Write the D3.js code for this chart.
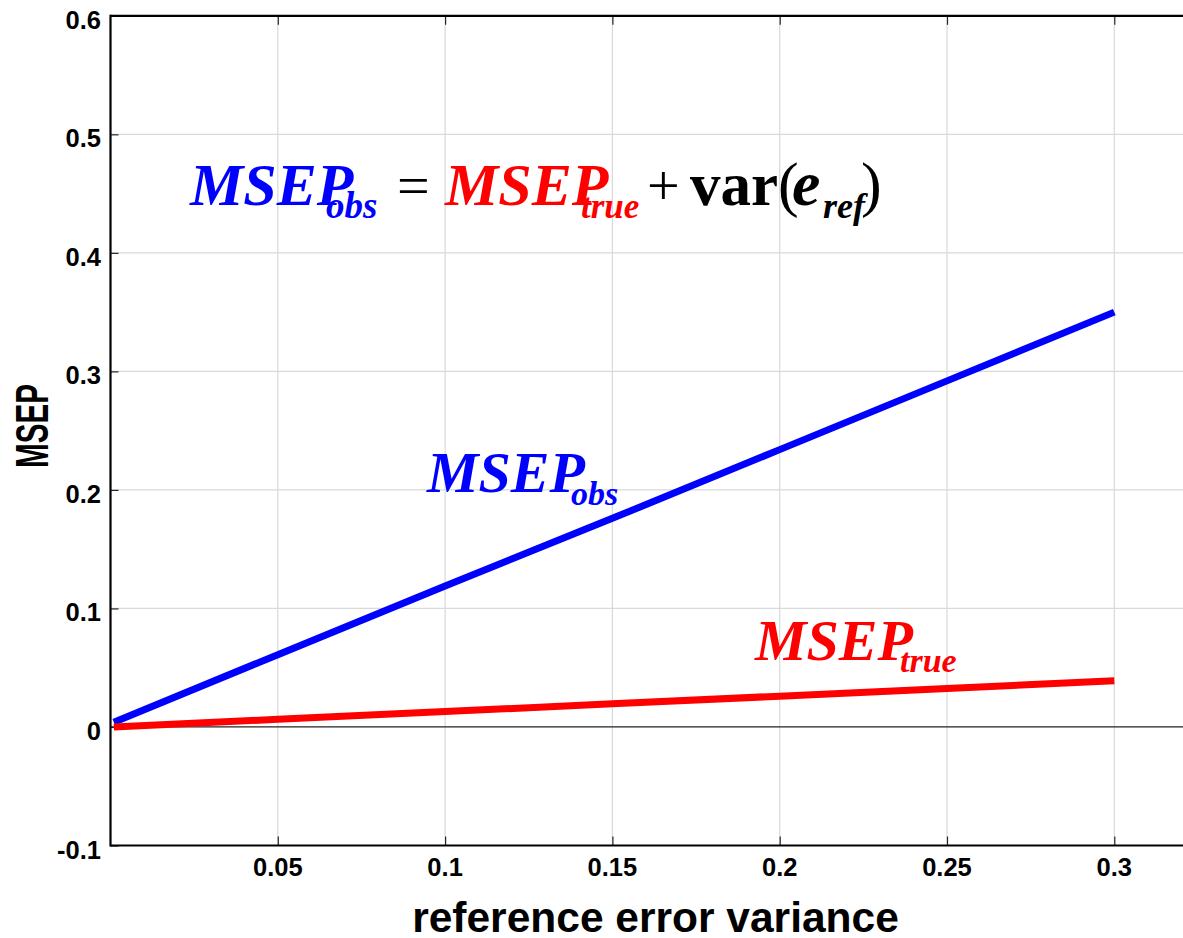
<!DOCTYPE html>
<html><head><meta charset="utf-8">
<script src="https://cdn.jsdelivr.net/npm/d3@7"></script>
<style>body{margin:0;background:#fff}svg{display:block}</style>
</head><body>
<svg id="c" width="1183" height="938"></svg>
<script>
// ---- data ----
const xValues  = [0.001, 0.05, 0.1, 0.15, 0.2, 0.25, 0.3];
const msepObs  = [0.004, 0.061, 0.119, 0.176, 0.234, 0.292, 0.350];
const msepTrue = [0.000, 0.0065, 0.013, 0.0195, 0.026, 0.0325, 0.039];
const xTicks = [0.05, 0.1, 0.15, 0.2, 0.25, 0.3];
const xTickLabels = ["0.05", "0.1", "0.15", "0.2", "0.25", "0.3"];
const yTicks = [-0.1, 0, 0.1, 0.2, 0.3, 0.4, 0.5, 0.6];
const yTickLabels = ["-0.1", "0", "0.1", "0.2", "0.3", "0.4", "0.5", "0.6"];
const xDomain = [0, 0.3];
const xMax = 0.325;
const yDomain = [-0.1, 0.6];

(function () {
// ---- layout ----
const svg = d3.select("#c");
const x = d3.scaleLinear().domain(xDomain).range([110.5, 1114.3]);
const y = d3.scaleLinear().domain(yDomain).range([845.5, 15.8]);
const pL = x(0), pR = x(xMax), pT = y(0.6), pB = y(-0.1);
const sans = "'Liberation Sans', Arial, sans-serif";
const serif = "'Liberation Serif', 'Times New Roman', serif";

svg.append("rect").attr("width", 1183).attr("height", 938).attr("fill", "#fff");

// grid
const grid = svg.append("g").attr("stroke", "#d9d9d9").attr("stroke-width", 1.2);
grid.selectAll("line.v").data(xTicks).join("line").attr("class", "v")
  .attr("x1", d => x(d)).attr("x2", d => x(d)).attr("y1", pT).attr("y2", pB);
grid.selectAll("line.h").data(yTicks.filter(d => d > -0.1 && d < 0.6 && d !== 0)).join("line").attr("class", "h")
  .attr("x1", pL).attr("x2", pR).attr("y1", d => y(d)).attr("y2", d => y(d));

// zero line
svg.append("line").attr("x1", pL).attr("x2", pR).attr("y1", y(0)).attr("y2", y(0))
  .attr("stroke", "#222").attr("stroke-width", 1.2);

// axes with inward ticks
const xAxisB = d3.axisBottom(x).tickValues(xTicks).tickSize(-9).tickFormat("");
const xAxisT = d3.axisTop(x).tickValues(xTicks).tickSize(-9).tickFormat("");
const yAxisL = d3.axisLeft(y).tickValues(yTicks).tickSize(-8).tickFormat("");
[[xAxisB, `translate(0,${pB})`], [xAxisT, `translate(0,${pT})`], [yAxisL, `translate(${pL},0)`]]
  .forEach(([ax, tr]) => {
    const g = svg.append("g").attr("transform", tr).call(ax);
    g.select(".domain").remove();
    g.selectAll(".tick line").attr("stroke", "#262626").attr("stroke-width", 1.2);
  });

// frame lines
svg.append("line").attr("x1", pL).attr("x2", 1190).attr("y1", pT).attr("y2", pT).attr("stroke", "#000").attr("stroke-width", 2.2);
svg.append("line").attr("x1", pL).attr("x2", 1190).attr("y1", pB).attr("y2", pB).attr("stroke", "#000").attr("stroke-width", 2.2);
svg.append("line").attr("x1", pL).attr("x2", pL).attr("y1", pT - 1.1).attr("y2", pB + 1.1).attr("stroke", "#000").attr("stroke-width", 2.2);

// tick labels
svg.append("g").selectAll("text").data(xTicks).join("text")
  .attr("x", d => x(d)).attr("y", 876).attr("text-anchor", "middle")
  .attr("font-family", sans).attr("font-weight", "bold").attr("font-size", 25.5)
  .text((d, i) => xTickLabels[i]);
svg.append("g").selectAll("text").data(yTicks).join("text")
  .attr("x", 101).attr("y", d => y(d) + 13).attr("text-anchor", "end")
  .attr("font-family", sans).attr("font-weight", "bold").attr("font-size", 25.5)
  .text((d, i) => yTickLabels[i]);

// axis titles
svg.append("text").attr("x", 655.5).attr("y", 932).attr("text-anchor", "middle")
  .attr("font-family", sans).attr("font-weight", "bold").attr("font-size", 42.5)
  .text("reference error variance");
svg.append("text").attr("transform", "translate(48,426) rotate(-90)").attr("text-anchor", "middle")
  .attr("font-family", sans).attr("font-weight", "bold").attr("font-size", 46)
  .attr("textLength", 84).attr("lengthAdjust", "spacingAndGlyphs")
  .text("MSEP");

// lines
const line = d3.line().x((d, i) => x(xValues[i])).y(d => y(d));
svg.append("path").datum(msepObs).attr("d", line).attr("fill", "none")
  .attr("stroke", "#0000ff").attr("stroke-width", 7);
svg.append("path").datum(msepTrue).attr("d", line).attr("fill", "none")
  .attr("stroke", "#ff0000").attr("stroke-width", 7);

// annotations
function t(xp, yp, str, size, color, style, weight) {
  svg.append("text").attr("x", xp).attr("y", yp).text(str)
    .attr("font-family", serif).attr("font-size", size).attr("fill", color)
    .attr("font-style", style).attr("font-weight", weight);
}
// equation
const eb = 205, es = 218;
t(190, eb, "MSEP", 60, "#0000ff", "italic", "bold");
t(326, es, "obs", 37, "#0000ff", "italic", "bold");
t(397, eb, "=", 58, "#000", "normal", "normal");
t(445, eb, "MSEP", 60, "#ff0000", "italic", "bold");
t(581, es, "true", 35, "#ff0000", "italic", "bold");
t(647, eb, "+", 58, "#000", "normal", "normal");
t(690, eb, "var", 61, "#000", "normal", "bold");
t(778, eb, "(", 62, "#000", "normal", "normal");
t(792, eb, "e", 64, "#000", "italic", "bold");
t(823, es, "ref", 36, "#000", "italic", "bold");
t(861, eb, ")", 62, "#000", "normal", "normal");
// line labels
t(427, 492, "MSEP", 58, "#0000ff", "italic", "bold");
t(571, 505, "obs", 34, "#0000ff", "italic", "bold");
t(755, 660, "MSEP", 58, "#ff0000", "italic", "bold");
t(900, 672, "true", 34, "#ff0000", "italic", "bold");
})();
</script>
</body></html>
